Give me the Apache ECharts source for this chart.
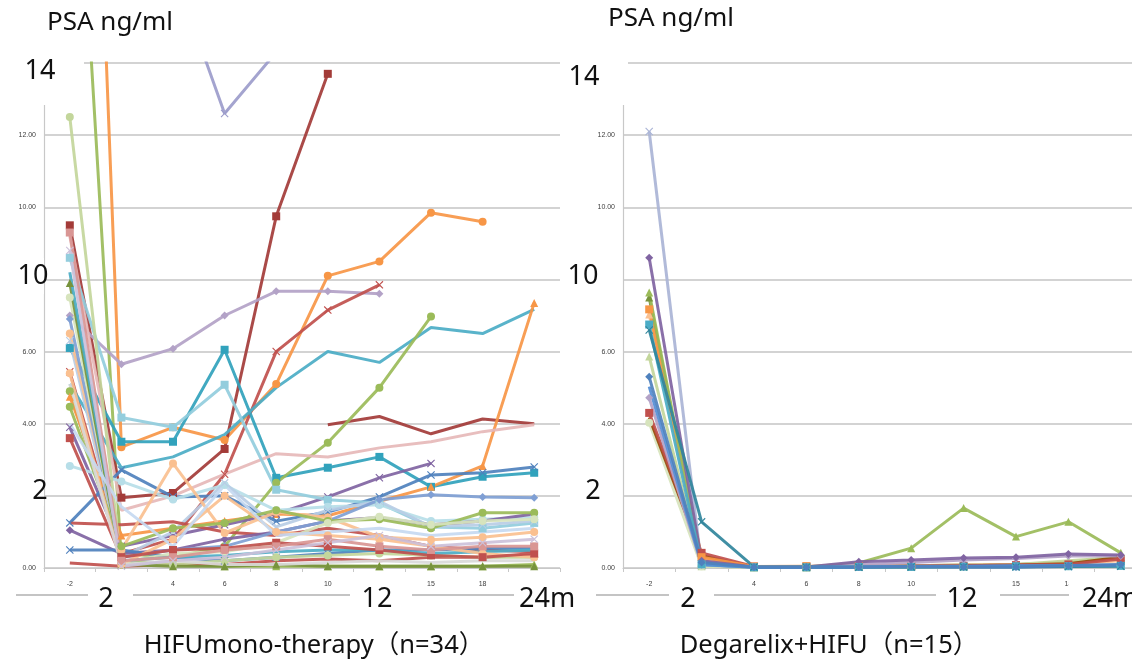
<!DOCTYPE html>
<html>
<head>
<meta charset="utf-8">
<script src="https://cdn.jsdelivr.net/npm/echarts@6/dist/echarts.min.js"></script>
<style>
html,body{margin:0;padding:0;background:#fff;}
#c{width:1132px;height:662px;}
</style>
</head>
<body>
<div id="c"></div>
<script>
// Months after treatment (category axis)
const months = ['-2', '2', '4', '6', '8', '10', '12', '15', '18', '24'];
const yTicks = [0, 2, 4, 6, 8, 10, 12, 14];

// ---- HIFU mono-therapy (n=34), PSA ng/ml ----
const h01 = [24, 0.2, 0.1, 0.05, 0.05, 0.05, 0.05, 0.05, 0.05, 0.1];
const h02 = [40, 3.35, 3.9, 3.55, 5.1, 8.1, 8.5, 9.85, 9.6, null];
const h03 = [null, null, 16.6, 12.6, 14.3, null, null, null, null, null];
const h04 = [9.5, 1.95, 2.08, 3.3, 9.75, 13.7, null, null, null, null];
const h05 = [null, null, null, null, null, 3.97, 4.2, 3.72, 4.13, 4.0];
const h06 = [7.0, 5.65, 6.08, 7.0, 7.67, 7.67, 7.6, null, null, null];
const h07 = [5.44, 0.4, 0.8, 2.6, 6.0, 7.15, 7.85, null, null, null];
const h08 = [6.1, 3.5, 3.5, 6.05, 2.5, 2.78, 3.08, 2.25, 2.53, 2.64];
const h09 = [5.1, 2.78, 3.08, 3.7, 5.0, 6.0, 5.7, 6.67, 6.5, 7.17];
const h10 = [4.9, 0.4, 0.3, 0.6, 2.36, 3.47, 5.0, 6.97, null, null];
const h11 = [4.75, 0.9, 1.1, 1.3, 1.5, 1.45, 1.85, 2.25, 2.83, 7.35];
const h12 = [9.2, 1.6, 2.0, 2.6, 3.17, 3.08, 3.33, 3.5, 3.78, 3.97];
const h13 = [3.9, 0.6, 0.9, 1.2, 1.5, 1.97, 2.5, 2.9, null, null];
const h14 = [1.25, 2.72, 1.97, 2.0, 1.3, 1.55, 1.97, 2.58, 2.64, 2.8];
const h15 = [8.6, 4.17, 3.9, 5.08, 2.17, 1.89, 1.8, 1.14, 1.1, 1.25];
const h16 = [2.83, 2.4, 1.9, 2.3, 1.6, 1.7, 1.75, 1.3, 1.35, 1.4];
const h17 = [6.3, 0.3, 1.0, 2.36, 1.14, 1.6, 1.85, 1.15, 1.2, 1.3];
const h18 = [1.25, 1.2, 1.28, 1.0, 0.9, 1.1, 0.9, 0.6, 0.5, 0.45];
const h19 = [1.05, 0.4, 0.5, 0.8, 1.0, 1.3, 1.4, 1.2, 1.3, 1.5];
const h20 = [0.5, 0.5, 0.3, 0.2, 0.3, 0.4, 0.5, 0.5, 0.55, 0.55];
const h21 = [0.14, 0.05, 0.1, 0.1, 0.2, 0.25, 0.2, 0.3, 0.3, 0.35];
const h22 = [12.5, 0.1, 0.1, 0.2, 0.3, 0.35, 0.4, 0.35, 0.3, 0.3];
const h23 = [6.5, 0.5, 2.9, 0.97, 1.55, 1.4, 0.86, 0.78, 0.85, 1.0];
const h24 = [6.9, 0.3, 0.5, 0.6, 1.0, 1.3, 1.89, 2.03, 1.97, 1.95];
const h25 = [4.47, 0.6, 1.1, 1.25, 1.6, 1.3, 1.35, 1.1, 1.53, 1.53];
const h26 = [7.5, 0.15, 0.4, 0.45, 0.7, 1.25, 1.42, 1.2, 1.3, 1.35];
const h27 = [7.9, 0.1, 0.05, 0.05, 0.1, 0.05, 0.05, 0.05, 0.05, 0.05];
const h28 = [8.2, 0.2, 0.3, 0.35, 0.45, 0.5, 0.5, 0.4, 0.45, 0.5];
const h29 = [5.4, 0.1, 0.8, 2.0, 1.0, 0.9, 0.8, 0.6, 0.4, 0.3];
const h30 = [3.6, 0.3, 0.5, 0.55, 0.7, 0.6, 0.5, 0.35, 0.3, 0.4];
const h31 = [5.1, 0.1, 0.2, 0.1, 0.1, 0.15, 0.2, 0.15, 0.2, 0.2];
const h32 = [9.3, 0.2, 0.3, 0.5, 0.6, 0.8, 0.6, 0.5, 0.6, 0.6];
const h33 = [4.0, 1.7, 0.6, 2.3, 0.9, 1.0, 1.1, 0.9, 1.0, 1.1];
const h34 = [8.8, 0.05, 0.2, 0.3, 0.5, 0.7, 0.9, 0.6, 0.7, 0.8];

// ---- Degarelix + HIFU (n=15), PSA ng/ml ----
const d01 = [12.1, 0.05, 0.02, 0.02, 0.02, 0.02, 0.03, 0.03, 0.04, 0.05];
const d02 = [8.6, 0.2, 0.03, 0.03, 0.17, 0.22, 0.28, 0.3, 0.39, 0.36];
const d03 = [7.64, 0.15, 0.03, 0.03, 0.14, 0.55, 1.66, 0.87, 1.28, 0.42];
const d04 = [7.5, 0.1, 0.02, 0.02, 0.05, 0.06, 0.08, 0.1, 0.15, 0.3];
const d05 = [7.17, 0.3, 0.04, 0.05, 0.05, 0.05, null, null, null, null];
const d06 = [7.03, 0.25, 0.03, 0.04, 0.05, 0.06, 0.08, 0.1, 0.12, 0.2];
const d07 = [6.75, 0.1, 0.02, 0.02, 0.03, 0.03, 0.04, 0.05, 0.05, 0.06];
const d08 = [6.6, 1.28, 0.03, 0.02, 0.02, 0.03, 0.03, 0.03, 0.04, 0.05];
const d09 = [5.86, 0.05, 0.02, 0.02, 0.03, 0.03, 0.04, 0.1, 0.2, 0.3];
const d10 = [4.72, 0.08, 0.02, 0.02, 0.1, 0.15, 0.22, 0.26, 0.33, 0.33];
const d11 = [4.3, 0.42, 0.04, 0.04, 0.04, 0.05, 0.06, 0.08, 0.1, 0.25];
const d12 = [4.03, 0.05, 0.02, 0.02, 0.03, 0.04, 0.05, 0.05, 0.05, 0.06];
const d13 = [4.17, 0.35, 0.03, 0.03, 0.04, 0.05, 0.06, 0.08, 0.12, 0.3];
const d14 = [5.3, 0.15, 0.02, 0.02, 0.03, 0.04, 0.03, 0.03, 0.06, 0.1];
const d15 = [5.03, 0.1, 0.02, 0.02, 0.03, 0.05, 0.05, 0.06, 0.07, 0.08];

const X_MARK = 'path://M0,1L1,0L5,4L9,0L10,1L6,5L10,9L9,10L5,6L1,10L0,9L4,5Z';

// [data, colour, marker]
const hifuStyle = [
  [h01, '#9bbb59', 'triangle'], [h02, '#f79646', 'circle'], [h03, '#9c9ccb', X_MARK],
  [h04, '#a33b38', 'rect'], [h05, '#a33b38', 'none'], [h06, '#b3a2c7', 'diamond'],
  [h07, '#c0504d', X_MARK], [h08, '#31a2bc', 'rect'], [h09, '#4bacc6', 'none'],
  [h10, '#9bbb59', 'circle'], [h11, '#f79646', 'triangle'], [h12, '#e6b9b8', 'none'],
  [h13, '#8064a2', X_MARK], [h14, '#4f81bd', X_MARK], [h15, '#93cddd', 'rect'],
  [h16, '#b7dee8', 'circle'], [h17, '#b9cde5', X_MARK], [h18, '#c0504d', 'none'],
  [h19, '#8064a2', 'diamond'], [h20, '#4f81bd', X_MARK], [h21, '#c0504d', 'none'],
  [h22, '#c3d69b', 'circle'], [h23, '#fac090', 'circle'], [h24, '#7f9fd4', 'diamond'],
  [h25, '#9bbb59', 'circle'], [h26, '#d7e4bd', 'circle'], [h27, '#77933c', 'triangle'],
  [h28, '#4bacc6', 'none'], [h29, '#fac090', 'circle'], [h30, '#c0504d', 'rect'],
  [h31, '#d9d9d9', 'none'], [h32, '#d99694', 'rect'], [h33, '#c6d9f1', 'none'],
  [h34, '#ccc1da', X_MARK]
];
const degaStyle = [
  [d01, '#aab4d6', X_MARK], [d04, '#77933c', 'triangle'], [d06, '#fac090', 'triangle'],
  [d09, '#c3d69b', 'triangle'], [d12, '#d7e4bd', 'circle'], [d13, '#984807', 'none'],
  [d11, '#c0504d', 'rect'], [d05, '#f79646', 'rect'], [d03, '#9bbb59', 'triangle'],
  [d10, '#b3a2c7', 'diamond'], [d02, '#8064a2', 'diamond'], [d07, '#4bacc6', 'rect'],
  [d08, '#31859c', X_MARK], [d15, '#558ed5', 'none'], [d14, '#4f81bd', 'diamond']
];

function mkSeries(list, idx) {
  return list.map(function (s) {
    return {
      type: 'line', xAxisIndex: idx, yAxisIndex: idx,
      data: s[0], connectNulls: false, clip: true,
      symbol: s[2], symbolSize: s[2] === 'none' ? 0 : 8, showSymbol: s[2] !== 'none',
      lineStyle: { color: s[1], width: 3, opacity: 0.92 },
      itemStyle: { color: s[1] },
      emphasis: { disabled: true }, silent: true
    };
  });
}

function mkY(idx) {
  return {
    type: 'value', gridIndex: idx, min: yTicks[0], max: yTicks[yTicks.length - 1], interval: 2,
    axisLine: { show: true, lineStyle: { color: '#c8c8c8', width: 1.2 } },
    axisTick: { show: false },
    axisLabel: { fontSize: 7, color: '#404040', margin: 8, fontFamily: 'Liberation Sans',
      formatter: function (v) { return v.toFixed(2); } },
    splitLine: { lineStyle: { color: '#c4c4c4', width: 1.6 } }
  };
}
function mkX(idx) {
  return {
    type: 'category', gridIndex: idx, data: months, boundaryGap: true,
    axisLine: { show: true, lineStyle: { color: '#c8c8c8', width: 1.2 } },
    axisTick: { show: true, interval: 0, length: 4, lineStyle: { color: '#c8c8c8' } },
    axisLabel: { interval: 0, fontSize: 7, color: '#404040', margin: 13, fontFamily: 'Liberation Sans' }
  };
}

const F = '"Noto Sans", "Noto Sans CJK JP", sans-serif';
function txt(x, y, s, size, align) {
  return { type: 'text', x: x, y: y, z: 120,
    style: { text: s, font: size + 'px ' + F, fill: '#111', textAlign: align || 'center', textVerticalAlign: 'middle' } };
}
function box(x, y, w, h) {
  return { type: 'rect', z: 110, shape: { x: x, y: y, width: w, height: h }, style: { fill: '#fff' } };
}
function hl(x1, x2, y) {
  return { type: 'line', z: 105, shape: { x1: x1, y1: y, x2: x2, y2: y }, style: { stroke: '#c4c4c4', lineWidth: 2 } };
}

const graphics = [
  // white label boxes
  box(0, 45, 84, 60), box(560, 45, 68, 60),
  box(10, 258, 34, 36), box(562, 258, 60, 36),
  box(14, 476, 30, 30), box(576, 476, 46, 30),
  box(88, 576, 45, 40), box(350, 576, 62, 40), box(514, 576, 82, 40),
  box(669, 576, 45, 40), box(936, 576, 64, 40), box(1069, 576, 63, 40),
  // decoration lines
  hl(16, 88, 595), hl(133, 350, 595), hl(412, 514, 595),
  hl(596, 669, 595), hl(714, 936, 595), hl(1000, 1069, 595),
  // texts
  txt(110, 23, 'PSA ng/ml', 26), txt(671, 19, 'PSA ng/ml', 26),
  txt(40, 71, '14', 27), txt(584, 77, '14', 27),
  txt(33, 276, '10', 27), txt(583, 276, '10', 27),
  txt(40, 491, '2', 27), txt(593, 491, '2', 27),
  txt(106, 599, '2', 27), txt(377, 599, '12', 27), txt(519, 599, '24m', 27, 'left'),
  txt(688, 599, '2', 27), txt(962, 599, '12', 27), txt(1082, 599, '24m', 27, 'left'),
  txt(314, 646, 'HIFUmono-therapy（n=34）', 25.5), txt(829, 646, 'Degarelix+HIFU（n=15）', 25.5)
];

const chart = echarts.init(document.getElementById('c'), null, { renderer: 'canvas' });
chart.setOption({
  animation: false,
  backgroundColor: '#fff',
  grid: [
    { left: 44, top: 63, width: 516, height: 505, outerBoundsMode: 'none', containLabel: false },
    { left: 623, top: 63, width: 524, height: 505, outerBoundsMode: 'none', containLabel: false }
  ],
  xAxis: [mkX(0), mkX(1)],
  yAxis: [mkY(0), mkY(1)],
  series: mkSeries(hifuStyle, 0).concat(mkSeries(degaStyle, 1)),
  graphic: { elements: graphics }
});
</script>
</body>
</html>
